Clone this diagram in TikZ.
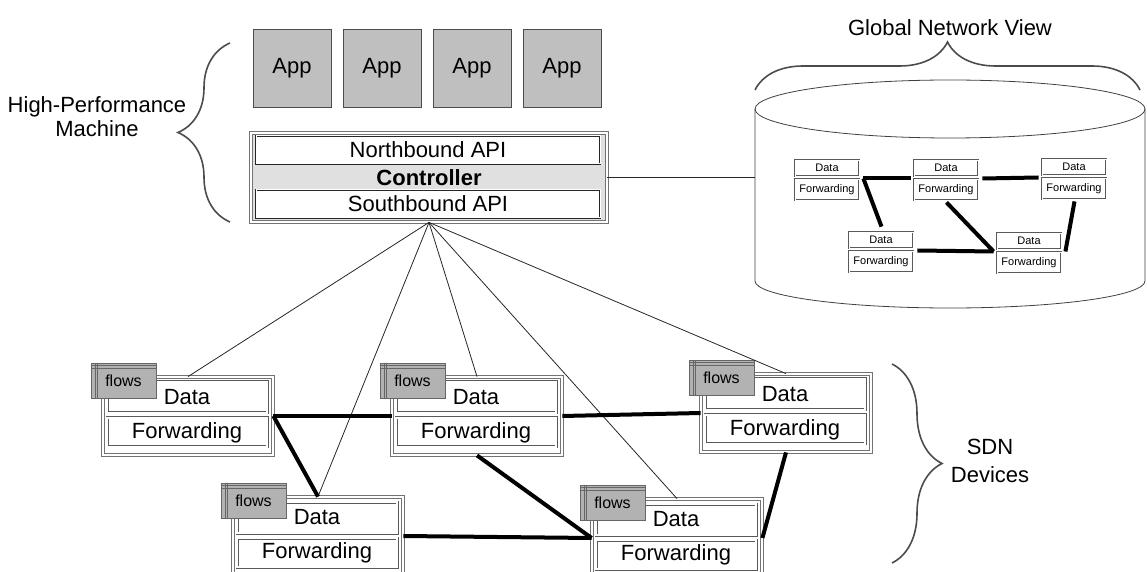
\documentclass[tikz,border=0pt]{standalone}
\usepackage{fontspec}
\setmainfont{Liberation Sans}
\usetikzlibrary{decorations.pathreplacing}

\begin{document}
\begin{tikzpicture}
[x=0.5pt,y=-0.5pt,
  every node/.style={font=\fontsize{11}{13}\selectfont},%
  appDecorate/.style={shape=rectangle,draw=black!70,fill=black!25,minimum width=39pt,minimum height=39pt,inner sep=0pt},%
  apiDecorate/.style={draw=black!85,double=white,double distance=0.5pt,fill=white,minimum width=172pt,minimum height=14pt,inner sep=0pt},%
  frameDecorate/.style={draw=black!55,double=white,double distance=#1,fill=white,inner sep=0pt},%
  boxDecorate/.style={draw=black!65,double=white,double distance=#1,fill=white,inner sep=0pt},%
  flowsDecorate/.style={draw=black!60,fill=black!30,minimum width=32.5pt,minimum height=17.5pt,inner sep=0pt,font=\fontsize{8}{9}\selectfont},%
  braceDecorate/.style={decorate,decoration={brace,amplitude=#1},draw=black!70,thick},%
  linkDecorate/.style={-,line width=2pt},%
  ctrlDecorate/.style={-,black!85,thin}]
\useasboundingbox (0,0) rectangle (1147,572);
%% global network view (cylinder)
\draw[black!75] (950,109) ellipse [x radius=97.5pt, y radius=14.5pt];
\draw[black!75] (755,109) -- (755,281) arc[start angle=180, end angle=360, x radius=97.5pt, y radius=13.5pt] -- (1145,109);
\coordinate (gnv-west) at (755,177.5);
%% apps and controller
\foreach \n/\x in {1/292,2/382,3/472,4/562}
  \node (app\n) at (\x,68) [appDecorate] {App};
\node (ctrl) at (429,177.5) [frameDecorate=0.8pt,fill=black!12,minimum width=178pt,minimum height=44.5pt] {\bfseries Controller};
\node (nb) at (428,150) [apiDecorate] {Northbound API};
\node (sb) at (428,204) [apiDecorate] {Southbound API};
\draw[ctrlDecorate] (ctrl.east) -- (gnv-west);
%% small devices in the network view
\foreach \dev/\x/\y in {s1/792/155, s2/911/155, s3/1039/154, s4/846/227, s5/994/228}
{
  \node (\dev) at (\x+35.5,\y+23.5) [frameDecorate=0.6pt,minimum width=35.5pt,minimum height=23.5pt] {};
  \node (\dev-data) at (\x+35,\y+13) [boxDecorate=0.4pt,minimum width=32pt,minimum height=8pt,font=\fontsize{5.5}{6}\selectfont] {Data};
  \node (\dev-fwd) at (\x+35,\y+34.5) [boxDecorate=0.4pt,minimum width=32pt,minimum height=10.5pt,font=\fontsize{5.5}{6}\selectfont] {Forwarding};
}
\path
\foreach \startnode/\endnode in {s1.east/s2.west, s2.east/s3.west, s1.east/s4.north,
  s2.south/s5.west, s4.east/s5.west, s3.south/s5.east}
{
  (\startnode) edge[linkDecorate] (\endnode)
};
%% SDN devices
\foreach \dev/\x/\y in {A/103/377, B/392/377, C/701/374, D/233/497, E/592/499}
{
  \node (\dev) at (\x+85,\y+39) [frameDecorate=0.9pt,minimum width=85pt,minimum height=39pt] {};
  \node (\dev-data) at (\x+84,\y+20.5) [boxDecorate=0.7pt,minimum width=80pt,minimum height=15.5pt] {Data};
  \node (\dev-fwd) at (\x+84,\y+55.5) [boxDecorate=0.7pt,minimum width=80pt,minimum height=14.5pt] {Forwarding};
  \node (\dev-flows) at (\x+20.5,\y+3.5) [flowsDecorate] {flows};
  \draw[black!60] ([xshift=2.5pt]\dev-flows.north west) -- ([xshift=2.5pt]\dev-flows.south west)
    ([xshift=3.5pt]\dev-flows.north west) -- ([xshift=3.5pt]\dev-flows.south west)
    ([yshift=-1.5pt]\dev-flows.north west) -- ([yshift=-1.5pt]\dev-flows.north east)
    ([yshift=-3pt]\dev-flows.north west) -- ([yshift=-3pt]\dev-flows.north east);
}
%% links
\foreach \t in {A,D,B,E,C}
  \draw[ctrlDecorate] (ctrl.south) -- (\t.north);
\path
\foreach \startnode/\endnode in {A.east/B.west, B.east/C.west, A.east/D.north,
  B.south/E.west, D.east/E.west, C.south/E.east}
{
  (\startnode) edge[linkDecorate] (\endnode)
};
%% braces and labels
\draw[braceDecorate=26pt] (230,222) -- (230,43);
\draw[braceDecorate=24pt] (755,90) -- (1140,90);
\draw[braceDecorate=25pt] (892,364) -- (892,563);
\node (hpm) at (97,117) [align=center,font=\fontsize{11}{12}\selectfont] {High-Performance\\Machine};
\node (gnv) at (950,28) {Global Network View};
\node (sdn) at (990,461) [align=center,font=\fontsize{11}{14}\selectfont] {SDN\\Devices};
\end{tikzpicture}
\end{document}
